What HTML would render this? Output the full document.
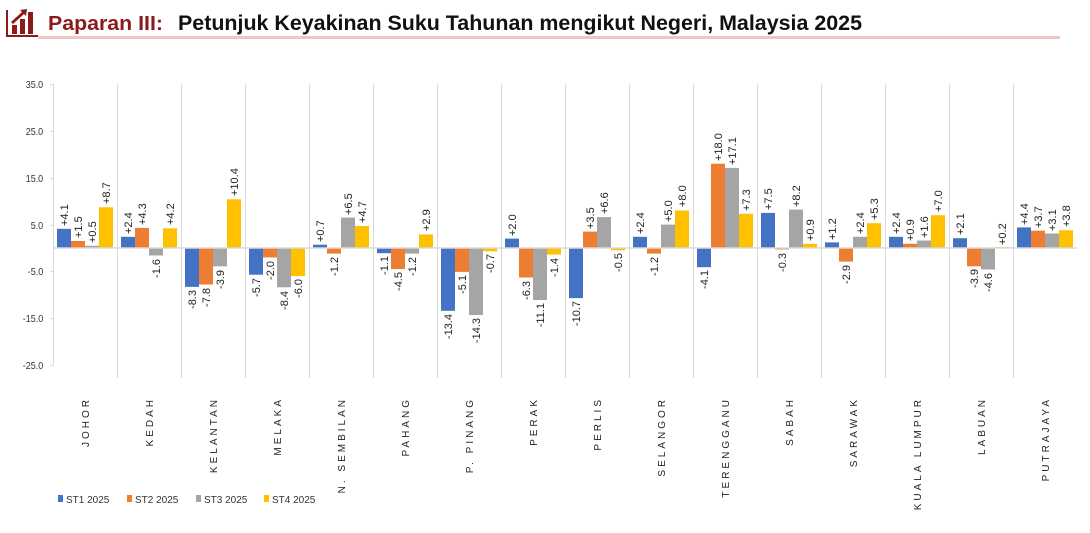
<!DOCTYPE html>
<html><head><meta charset="utf-8"><style>
body{margin:0;background:#fff;width:1090px;height:528px;overflow:hidden;font-family:"Liberation Sans",sans-serif}
</style></head><body>
<svg width="1090" height="528" xmlns="http://www.w3.org/2000/svg" font-family="Liberation Sans, sans-serif">
<!-- header -->
<g fill="#8B1A1A">
<rect x="6" y="10" width="2" height="27"/><rect x="6" y="35" width="32" height="2"/>
<rect x="12" y="25" width="5" height="9"/><rect x="20" y="19" width="5" height="15"/><rect x="28" y="12" width="5" height="22"/>
<path d="M11 22 L22 12 L20 10 L27 9 L26 16 L24 14 L13 24 Z"/>
</g>
<rect x="38" y="36" width="1022" height="3" fill="#EFC5C5"/>
<text x="48" y="30" font-size="20.5" font-weight="bold" fill="#8B1A1A" textLength="115" lengthAdjust="spacingAndGlyphs">Paparan III:</text>
<text x="178" y="30" font-size="21" font-weight="bold" fill="#111" textLength="684" lengthAdjust="spacingAndGlyphs">Petunjuk Keyakinan Suku Tahunan mengikut Negeri, Malaysia 2025</text>
<!-- separators -->
<g stroke="#D9D9D9" stroke-width="1">
<line x1="117.5" y1="84" x2="117.5" y2="378"/><line x1="181.5" y1="84" x2="181.5" y2="378"/><line x1="245.5" y1="84" x2="245.5" y2="378"/><line x1="309.5" y1="84" x2="309.5" y2="378"/><line x1="373.5" y1="84" x2="373.5" y2="378"/><line x1="437.5" y1="84" x2="437.5" y2="378"/><line x1="501.5" y1="84" x2="501.5" y2="378"/><line x1="565.5" y1="84" x2="565.5" y2="378"/><line x1="629.5" y1="84" x2="629.5" y2="378"/><line x1="693.5" y1="84" x2="693.5" y2="378"/><line x1="757.5" y1="84" x2="757.5" y2="378"/><line x1="821.5" y1="84" x2="821.5" y2="378"/><line x1="885.5" y1="84" x2="885.5" y2="378"/><line x1="949.5" y1="84" x2="949.5" y2="378"/><line x1="1013.5" y1="84" x2="1013.5" y2="378"/>
<line x1="53.5" y1="84" x2="53.5" y2="365"/>
<line x1="50" y1="84.5" x2="53" y2="84.5"/><line x1="50" y1="131.5" x2="53" y2="131.5"/><line x1="50" y1="178.5" x2="53" y2="178.5"/><line x1="50" y1="225.5" x2="53" y2="225.5"/><line x1="50" y1="271.5" x2="53" y2="271.5"/><line x1="50" y1="318.5" x2="53" y2="318.5"/><line x1="50" y1="365.5" x2="53" y2="365.5"/>
</g>
<g font-size="10" fill="#333" text-anchor="end" transform="scale(0.9,1)">
<text x="48" y="88">35.0</text><text x="48" y="135">25.0</text><text x="48" y="182">15.0</text><text x="48" y="229">5.0</text><text x="48" y="275">-5.0</text><text x="48" y="322">-15.0</text><text x="48" y="369">-25.0</text>
</g>
<!-- bars -->
<g fill="#4472C4">
<rect x="57" y="228.8" width="14" height="19.2"/><rect x="121" y="236.8" width="14" height="11.2"/><rect x="185" y="248" width="14" height="38.9"/><rect x="249" y="248" width="14" height="26.7"/><rect x="313" y="244.7" width="14" height="3.3"/><rect x="377" y="248" width="14" height="5.2"/><rect x="441" y="248" width="14" height="62.8"/><rect x="505" y="238.6" width="14" height="9.4"/><rect x="569" y="248" width="14" height="50.1"/><rect x="633" y="236.8" width="14" height="11.2"/><rect x="697" y="248" width="14" height="19.2"/><rect x="761" y="212.9" width="14" height="35.1"/><rect x="825" y="242.4" width="14" height="5.6"/><rect x="889" y="236.8" width="14" height="11.2"/><rect x="953" y="238.2" width="14" height="9.8"/><rect x="1017" y="227.4" width="14" height="20.6"/>
</g>
<g fill="#ED7D31">
<rect x="71" y="241" width="14" height="7"/><rect x="135" y="227.9" width="14" height="20.1"/><rect x="199" y="248" width="14" height="36.5"/><rect x="263" y="248" width="14" height="9.4"/><rect x="327" y="248" width="14" height="5.6"/><rect x="391" y="248" width="14" height="21.1"/><rect x="455" y="248" width="14" height="23.9"/><rect x="519" y="248" width="14" height="29.5"/><rect x="583" y="231.6" width="14" height="16.4"/><rect x="647" y="248" width="14" height="5.6"/><rect x="711" y="163.7" width="14" height="84.3"/><rect x="775" y="248" width="14" height="1.4"/><rect x="839" y="248" width="14" height="13.6"/><rect x="903" y="243.8" width="14" height="4.2"/><rect x="967" y="248" width="14" height="18.3"/><rect x="1031" y="230.7" width="14" height="17.3"/>
</g>
<g fill="#A5A5A5">
<rect x="85" y="245.7" width="14" height="2.3"/><rect x="149" y="248" width="14" height="7.5"/><rect x="213" y="248" width="14" height="18.3"/><rect x="277" y="248" width="14" height="39.3"/><rect x="341" y="217.6" width="14" height="30.4"/><rect x="405" y="248" width="14" height="5.6"/><rect x="469" y="248" width="14" height="67"/><rect x="533" y="248" width="14" height="52"/><rect x="597" y="217.1" width="14" height="30.9"/><rect x="661" y="224.6" width="14" height="23.4"/><rect x="725" y="167.9" width="14" height="80.1"/><rect x="789" y="209.6" width="14" height="38.4"/><rect x="853" y="236.8" width="14" height="11.2"/><rect x="917" y="240.5" width="14" height="7.5"/><rect x="981" y="248" width="14" height="21.5"/><rect x="1045" y="233.5" width="14" height="14.5"/>
</g>
<g fill="#FFC000">
<rect x="99" y="207.3" width="14" height="40.7"/><rect x="163" y="228.3" width="14" height="19.7"/><rect x="227" y="199.3" width="14" height="48.7"/><rect x="291" y="248" width="14" height="28.1"/><rect x="355" y="226" width="14" height="22"/><rect x="419" y="234.4" width="14" height="13.6"/><rect x="483" y="248" width="14" height="3.3"/><rect x="547" y="248" width="14" height="6.6"/><rect x="611" y="248" width="14" height="2.3"/><rect x="675" y="210.5" width="14" height="37.5"/><rect x="739" y="213.8" width="14" height="34.2"/><rect x="803" y="243.8" width="14" height="4.2"/><rect x="867" y="223.2" width="14" height="24.8"/><rect x="931" y="215.2" width="14" height="32.8"/><rect x="995" y="247.1" width="14" height="0.9"/><rect x="1059" y="230.2" width="14" height="17.8"/>
</g>
<line x1="53" y1="248" x2="1077" y2="248" stroke="#D9D9D9" stroke-width="1.5"/>
<!-- value labels -->
<g font-size="11" fill="#222">
<g text-anchor="start">
<text transform="translate(68,226) rotate(-90)">+4.1</text><text transform="translate(82,238) rotate(-90)">+1.5</text><text transform="translate(96,243) rotate(-90)">+0.5</text><text transform="translate(110,204) rotate(-90)">+8.7</text>
<text transform="translate(132,234) rotate(-90)">+2.4</text><text transform="translate(146,225) rotate(-90)">+4.3</text><text transform="translate(174,225) rotate(-90)">+4.2</text>
<text transform="translate(238,196) rotate(-90)">+10.4</text>
<text transform="translate(324,242) rotate(-90)">+0.7</text><text transform="translate(352,215) rotate(-90)">+6.5</text><text transform="translate(366,223) rotate(-90)">+4.7</text>
<text transform="translate(430,231) rotate(-90)">+2.9</text>
<text transform="translate(516,236) rotate(-90)">+2.0</text>
<text transform="translate(594,229) rotate(-90)">+3.5</text><text transform="translate(608,214) rotate(-90)">+6.6</text>
<text transform="translate(644,234) rotate(-90)">+2.4</text><text transform="translate(672,222) rotate(-90)">+5.0</text><text transform="translate(686,207) rotate(-90)">+8.0</text>
<text transform="translate(722,161) rotate(-90)">+18.0</text><text transform="translate(736,165) rotate(-90)">+17.1</text><text transform="translate(750,211) rotate(-90)">+7.3</text>
<text transform="translate(772,210) rotate(-90)">+7.5</text><text transform="translate(800,207) rotate(-90)">+8.2</text><text transform="translate(814,241) rotate(-90)">+0.9</text>
<text transform="translate(836,240) rotate(-90)">+1.2</text><text transform="translate(864,234) rotate(-90)">+2.4</text><text transform="translate(878,220) rotate(-90)">+5.3</text>
<text transform="translate(900,234) rotate(-90)">+2.4</text><text transform="translate(914,241) rotate(-90)">+0.9</text><text transform="translate(928,238) rotate(-90)">+1.6</text><text transform="translate(942,212) rotate(-90)">+7.0</text>
<text transform="translate(964,235) rotate(-90)">+2.1</text><text transform="translate(1006,245) rotate(-90)">+0.2</text>
<text transform="translate(1028,225) rotate(-90)">+4.4</text><text transform="translate(1042,228) rotate(-90)">+3.7</text><text transform="translate(1056,231) rotate(-90)">+3.1</text><text transform="translate(1070,227) rotate(-90)">+3.8</text>
</g>
<g text-anchor="end">
<text transform="translate(160,259) rotate(-90)">-1.6</text>
<text transform="translate(196,290) rotate(-90)">-8.3</text><text transform="translate(210,288) rotate(-90)">-7.8</text><text transform="translate(224,270) rotate(-90)">-3.9</text>
<text transform="translate(260,278) rotate(-90)">-5.7</text><text transform="translate(274,261) rotate(-90)">-2.0</text><text transform="translate(288,291) rotate(-90)">-8.4</text><text transform="translate(302,279) rotate(-90)">-6.0</text>
<text transform="translate(338,257) rotate(-90)">-1.2</text>
<text transform="translate(388,256) rotate(-90)">-1.1</text><text transform="translate(402,272) rotate(-90)">-4.5</text><text transform="translate(416,257) rotate(-90)">-1.2</text>
<text transform="translate(452,314) rotate(-90)">-13.4</text><text transform="translate(466,275) rotate(-90)">-5.1</text><text transform="translate(480,318) rotate(-90)">-14.3</text><text transform="translate(494,254) rotate(-90)">-0.7</text>
<text transform="translate(530,281) rotate(-90)">-6.3</text><text transform="translate(544,303) rotate(-90)">-11.1</text><text transform="translate(558,258) rotate(-90)">-1.4</text>
<text transform="translate(580,301) rotate(-90)">-10.7</text><text transform="translate(622,253) rotate(-90)">-0.5</text>
<text transform="translate(658,257) rotate(-90)">-1.2</text>
<text transform="translate(708,270) rotate(-90)">-4.1</text>
<text transform="translate(786,253) rotate(-90)">-0.3</text>
<text transform="translate(850,265) rotate(-90)">-2.9</text>
<text transform="translate(978,269) rotate(-90)">-3.9</text><text transform="translate(992,273) rotate(-90)">-4.6</text>
</g>
</g>
<!-- category labels -->
<g font-size="10" fill="#222" text-anchor="end" letter-spacing="3">
<text transform="translate(89,397) rotate(-90)">JOHOR</text>
<text transform="translate(153,397) rotate(-90)">KEDAH</text>
<text transform="translate(217,397) rotate(-90)">KELANTAN</text>
<text transform="translate(281,397) rotate(-90)">MELAKA</text>
<text transform="translate(345,397) rotate(-90)">N. SEMBILAN</text>
<text transform="translate(409,397) rotate(-90)">PAHANG</text>
<text transform="translate(473,397) rotate(-90)">P. PINANG</text>
<text transform="translate(537,397) rotate(-90)">PERAK</text>
<text transform="translate(601,397) rotate(-90)">PERLIS</text>
<text transform="translate(665,397) rotate(-90)">SELANGOR</text>
<text transform="translate(729,397) rotate(-90)">TERENGGANU</text>
<text transform="translate(793,397) rotate(-90)">SABAH</text>
<text transform="translate(857,397) rotate(-90)">SARAWAK</text>
<text transform="translate(921,397) rotate(-90)">KUALA LUMPUR</text>
<text transform="translate(985,397) rotate(-90)">LABUAN</text>
<text transform="translate(1049,397) rotate(-90)">PUTRAJAYA</text>
</g>
<!-- legend -->
<g font-size="10" fill="#333">
<rect x="58" y="495" width="5" height="7" fill="#4472C4"/><text x="66" y="503">ST1 2025</text>
<rect x="127" y="495" width="5" height="7" fill="#ED7D31"/><text x="135" y="503">ST2 2025</text>
<rect x="196" y="495" width="5" height="7" fill="#A5A5A5"/><text x="204" y="503">ST3 2025</text>
<rect x="264" y="495" width="5" height="7" fill="#FFC000"/><text x="272" y="503">ST4 2025</text>
</g>
</svg>
</body></html>
